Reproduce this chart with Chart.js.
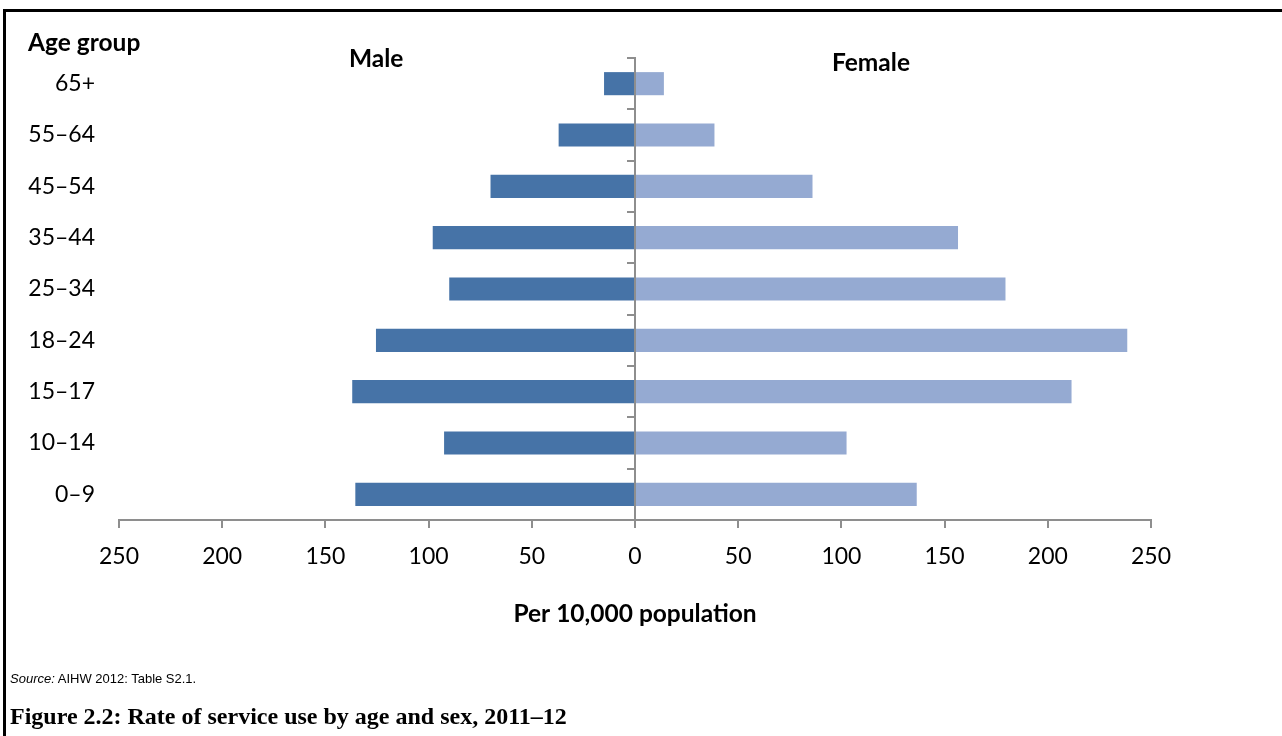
<!DOCTYPE html>
<html>
<head>
<meta charset="utf-8">
<script src="https://cdn.jsdelivr.net/npm/chart.js@4"></script>
<style>
  html, body { margin: 0; padding: 0; background: #fff; }
  #wrap { position: relative; width: 1282px; height: 736px; overflow: hidden; }
  #chart { position: absolute; left: 0; top: 0; }
  .txt { position: absolute; white-space: nowrap; color: #000; line-height: 1; }
  .lbl { font-family: Lato, "Open Sans", sans-serif; font-weight: bold; font-size: 24.5px; }
  #borderTop { position: absolute; left: 3px; top: 9px; width: 1279px; height: 3px; background: #000; }
  #borderLeft { position: absolute; left: 3px; top: 9px; width: 3px; height: 727px; background: #000; }
</style>
</head>
<body>
<div id="wrap">
  <canvas id="chart" width="1282" height="736"></canvas>
  <div id="borderTop"></div>
  <div id="borderLeft"></div>
  <div class="txt lbl" style="left:28px; top:30px;">Age group</div>
  <div class="txt lbl" style="left:349px; top:46px;">Male</div>
  <div class="txt lbl" style="left:832px; top:50px;">Female</div>
  <div class="txt" style="left:10px; top:672px; font-family:'Liberation Sans', Arial, sans-serif; font-size:13px;"><i>Source:</i> AIHW 2012: Table S2.1.</div>
  <div class="txt" style="left:10px; top:704px; font-family:'Liberation Serif', serif; font-weight:bold; font-size:24px;">Figure 2.2: Rate of service use by age and sex, 2011–12</div>
</div>
<script>
const ageGroups = ['65+', '55–64', '45–54', '35–44', '25–34', '18–24', '15–17', '10–14', '0–9'];
const maleRates = [15, 37, 70, 98, 90, 125.5, 137, 92.5, 135.5];
const femaleRates = [14, 38.5, 86, 156.5, 179.5, 238.5, 211.5, 102.5, 136.5];
const xMin = -250, xMax = 250, xStep = 50;
const seriesNames = ['Male', 'Female'];

const axisGrey = '#8E8E8E';
const fontFamily = 'Lato, "Open Sans", sans-serif';

new Chart(document.getElementById('chart'), {
  type: 'bar',
  data: {
    labels: ageGroups,
    datasets: [
      { label: seriesNames[0], data: maleRates.map(v => -v), backgroundColor: '#4673A7', borderWidth: 0 },
      { label: seriesNames[1], data: femaleRates, backgroundColor: '#95AAD2', borderWidth: 0 }
    ]
  },
  options: {
    indexAxis: 'y',
    responsive: false,
    animation: false,
    barPercentage: 0.45,
    categoryPercentage: 1.0,
    layout: { padding: { left: 0, top: 58, right: 131, bottom: 0 } },
    plugins: { legend: { display: false }, tooltip: { enabled: false } },
    scales: {
      x: {
        type: 'linear',
        stacked: true,
        min: xMin, max: xMax,
        afterFit: s => { s.height = 216; },
        ticks: {
          stepSize: xStep,
          padding: 15,
          color: '#000',
          font: { family: fontFamily, size: 23 },
          callback: v => Math.abs(v)
        },
        grid: { display: true, drawOnChartArea: false, drawTicks: true, tickLength: 8, color: axisGrey, lineWidth: 2 },
        border: { display: true, color: axisGrey, width: 2 },
        title: {
          display: true,
          text: 'Per 10,000 population',
          color: '#000',
          font: { family: fontFamily, size: 24.5, weight: 'bold' },
          padding: { top: 0, bottom: 107 }
        }
      },
      y: {
        type: 'category',
        stacked: true,
        position: 'left',
        afterFit: s => { s.width = 119; },
        ticks: { padding: 24, color: '#000', font: { family: fontFamily, size: 23 } },
        grid: { display: false, drawTicks: false },
        border: { display: false }
      },
      y2: {
        type: 'category',
        position: { x: 0 },
        offset: true,
        afterFit: s => { s.width = 0; },
        ticks: { display: false },
        grid: { display: true, offset: true, drawOnChartArea: false, drawTicks: true, tickLength: 7, color: axisGrey, lineWidth: 2 },
        border: { display: true, color: axisGrey, width: 2, z: 1 }
      }
    }
  }
});
</script>
</body>
</html>
